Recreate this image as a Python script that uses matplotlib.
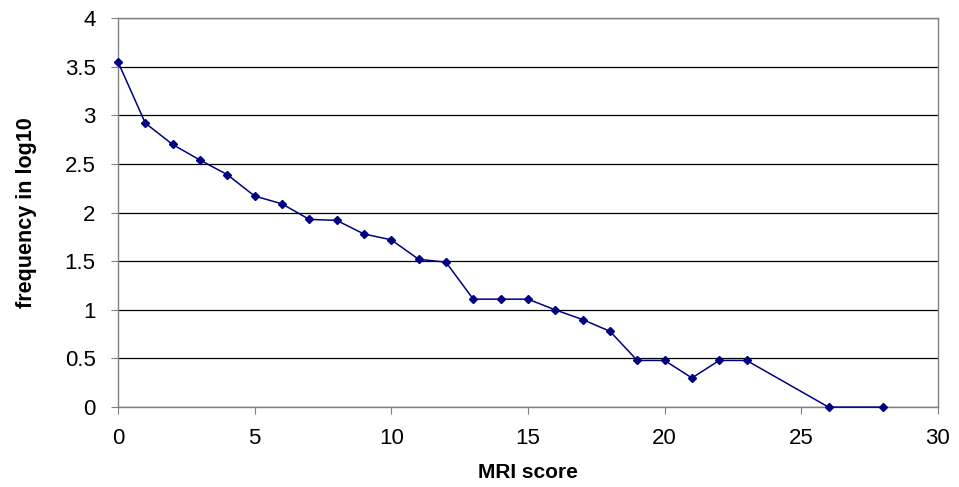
import matplotlib.pyplot as plt

plt.rcParams['font.family'] = ['Liberation Sans', 'DejaVu Sans']

# MRI score vs log10 frequency
mri_score = [0, 1, 2, 3, 4, 5, 6, 7, 8, 9, 10, 11, 12, 13, 14, 15, 16, 17, 18,
             19, 20, 21, 22, 23, 26, 28]
log_freq = [3.55, 2.92, 2.70, 2.54, 2.39, 2.17, 2.09, 1.93, 1.92, 1.78, 1.72,
            1.52, 1.49, 1.11, 1.11, 1.11, 1.00, 0.90, 0.78, 0.48, 0.48, 0.30,
            0.48, 0.48, 0.0, 0.0]

fig = plt.figure(figsize=(9.59, 4.87), dpi=100)
ax = fig.add_axes([0.123, 0.164, 0.855, 0.799])

ax.plot(mri_score, log_freq, color='#000080', linewidth=1.1,
        marker='D', markersize=4, clip_on=False, zorder=3)

ax.set_xlim(0, 30)
ax.set_ylim(0, 4)
ax.set_xticks(range(0, 31, 5))
ax.set_yticks([0, 0.5, 1, 1.5, 2, 2.5, 3, 3.5, 4])
ax.set_yticklabels(['0', '0.5', '1', '1.5', '2', '2.5', '3', '3.5', '4'])

ax.grid(axis='y', color='black', linewidth=0.9)
ax.set_axisbelow(True)
for s in ax.spines.values():
    s.set_color('#808080')
    s.set_linewidth(1.0)

ax.tick_params(axis='both', labelsize=16, direction='out', length=5,
               color='#808080')
ax.tick_params(axis='x', pad=10)
ax.tick_params(axis='y', pad=11)

ax.set_xlabel('MRI score', fontsize=15, fontweight='bold', labelpad=10)
ax.set_ylabel('frequency in log10', fontsize=15.5, fontweight='bold', labelpad=20)

fig.savefig('out.png', dpi=100)
